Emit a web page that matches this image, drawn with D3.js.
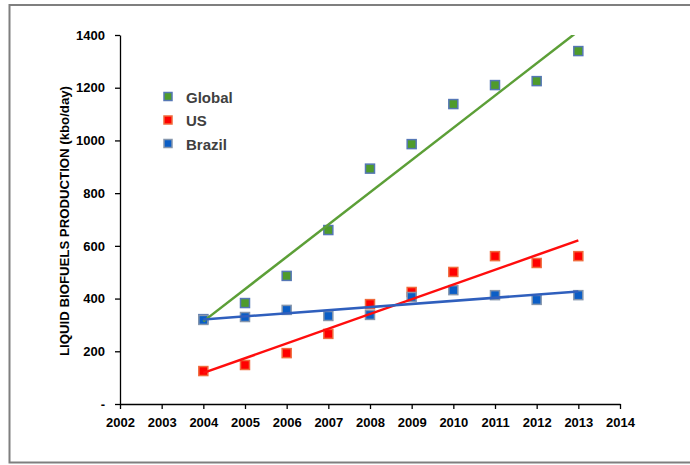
<!DOCTYPE html>
<html>
<head>
<meta charset="utf-8">
<script src="https://cdn.jsdelivr.net/npm/d3@7"></script>
<style>
  html, body { margin: 0; padding: 0; background: #fff; }
  svg { display: block; font-family: "Liberation Sans", Arial, sans-serif; }
</style>
</head>
<body>
<svg id="chart" width="690" height="465"></svg>
<script>
// Liquid biofuels production, kbo/day
const years = [2004, 2005, 2006, 2007, 2008, 2009, 2010, 2011, 2012, 2013];
const globalValues = [322, 383, 486, 660, 893, 986, 1138, 1210, 1225, 1339];
const usValues = [125, 148, 193, 266, 379, 425, 501, 561, 535, 561];
const brazilValues = [319, 330, 357, 334, 338, 406, 432, 413, 395, 413];
const seriesNames = ["Global", "US", "Brazil"];
const xTicks = [2002, 2003, 2004, 2005, 2006, 2007, 2008, 2009, 2010, 2011, 2012, 2013, 2014];
const yTicks = [0, 200, 400, 600, 800, 1000, 1200, 1400];
const yTitle = "LIQUID BIOFUELS PRODUCTION (kbo/day)";

const svg = d3.select("#chart");
const W = 690, H = 465;

// outer frame
svg.append("rect")
  .attr("x", 9.5).attr("y", 5).attr("width", W + 10).attr("height", 457.5)
  .attr("fill", "#fff").attr("stroke", "#7f7f7f").attr("stroke-width", 2);

const x = d3.scaleLinear().domain([2002, 2014]).range([120, 620]);
const y = d3.scaleLinear().domain([0, 1400]).range([404, 35]);

const series = [
  { name: seriesNames[0], values: globalValues, fill: "#4f9b2b", stroke: "#5577b5", line: "#5c9f37" },
  { name: seriesNames[1], values: usValues, fill: "#ff0000", stroke: "#f06a3c", line: "#ff0d0d" },
  { name: seriesNames[2], values: brazilValues, fill: "#0b5ec6", stroke: "#8596ad", line: "#2f5fbd" }
];

// axes
const xAxis = d3.axisBottom(x).tickValues(xTicks).tickFormat(d3.format("d"))
  .tickSizeInner(5).tickSizeOuter(0).tickPadding(9);
const yAxis = d3.axisLeft(y).tickValues(yTicks)
  .tickFormat(d => d === 0 ? "-" : d3.format("d")(d))
  .tickSizeInner(5).tickSizeOuter(0).tickPadding(10);

const gx = svg.append("g").attr("transform", `translate(0,${y(0)})`).call(xAxis);
const gy = svg.append("g").attr("transform", `translate(${x(2002)},0)`).call(yAxis);
[gx, gy].forEach(g => {
  g.select(".domain").attr("stroke", "#000").attr("stroke-width", 1.3);
  g.selectAll(".tick line").attr("stroke", "#000").attr("stroke-width", 1.3);
  g.selectAll(".tick text").attr("fill", "#000")
    .style("font-size", "13px").style("font-weight", "bold");
});

svg.append("text")
  .attr("transform", `translate(69,221) rotate(-90)`)
  .attr("text-anchor", "middle")
  .attr("textLength", 270).attr("lengthAdjust", "spacingAndGlyphs")
  .style("font-size", "12px").style("font-weight", "bold")
  .attr("fill", "#000")
  .text(yTitle);

// plot clip
svg.append("clipPath").attr("id", "plotClip")
  .append("rect").attr("x", x(2002)).attr("y", y(1400))
  .attr("width", x(2014) - x(2002)).attr("height", y(0) - y(1400));

// least squares trend line for a series
function trend(vals) {
  const mx = d3.mean(years), my = d3.mean(vals);
  const sxy = d3.sum(years, (t, i) => (t - mx) * (vals[i] - my));
  const sxx = d3.sum(years, t => (t - mx) * (t - mx));
  const b = sxy / sxx, a = my - b * mx;
  const x0 = years[0], x1 = years[years.length - 1];
  return [[x0, a + b * x0], [x1, a + b * x1]];
}

const M = 9; // marker size
const plot = svg.append("g");

series.forEach(s => {
  plot.append("g").selectAll("rect")
    .data(s.values)
    .join("rect")
    .attr("x", (d, i) => x(years[i]) - M / 2)
    .attr("y", d => y(d) - M / 2)
    .attr("width", M).attr("height", M)
    .attr("fill", s.fill).attr("stroke", s.stroke).attr("stroke-width", 1.5);
});

const lineGen = d3.line().x(d => x(d[0])).y(d => y(d[1]));
series.forEach(s => {
  plot.append("path")
    .attr("clip-path", "url(#plotClip)")
    .attr("d", lineGen(trend(s.values)))
    .attr("fill", "none").attr("stroke", s.line).attr("stroke-width", 2.5);
});

// legend
const legend = svg.append("g");
series.forEach((s, i) => {
  const cy = 97 + i * 23.5;
  legend.append("rect")
    .attr("x", 168 - M / 2 + 0.5).attr("y", cy - M / 2)
    .attr("width", M - 1).attr("height", M - 1)
    .attr("fill", s.fill).attr("stroke", s.stroke).attr("stroke-width", 1.5);
  legend.append("text")
    .attr("x", 186).attr("y", cy + 5.5)
    .style("font-size", "15px").style("font-weight", "bold")
    .attr("fill", "#404040")
    .text(s.name);
});
</script>
</body>
</html>
